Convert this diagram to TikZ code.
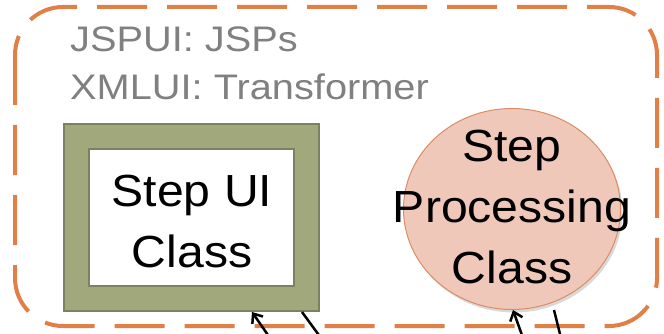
\documentclass[tikz,border=0pt]{standalone}
\usepackage{fontspec}
\setmainfont{Liberation Sans}
\newfontfamily\labelfont[FakeStretch=1.12]{Liberation Sans}
\newfontfamily\classfont[FakeStretch=1.07]{Liberation Sans}
\usetikzlibrary{arrows.meta,shapes.geometric,shadows}
\definecolor{frameorange}{HTML}{E08046}
\definecolor{labelgray}{HTML}{808080}
\definecolor{olivefill}{HTML}{A0A87C}
\definecolor{olivedraw}{HTML}{7C8260}
\definecolor{procfill}{HTML}{F0C8BA}
\definecolor{procdraw}{HTML}{DC8C64}
\begin{document}
\begin{tikzpicture}[x=1pt,y=-1pt,
  uiframe/.style={draw=frameorange,line width=4pt,dash pattern=on 50pt off 20pt,rounded corners=48pt},
  uilabel/.style={text=labelgray,font=\labelfont\fontsize{35.5}{48}\selectfont,anchor=base west,inner sep=0pt},
  classtext/.style={font=\classfont\fontsize{45}{61}\selectfont,align=center,inner sep=0pt},
  link/.style={black,line width=2.5pt}]
  \useasboundingbox (0,0) rectangle (664,334);
  % step ui class: olive frame, white inside
  \node[draw=olivedraw,fill=olivefill,line width=2pt,minimum width=255pt,minimum height=187pt] (uibox) at (191.5,217.5) {};
  \node[draw=olivedraw,fill=white,line width=2pt,minimum width=205pt,minimum height=137pt] (uiinner) at (191.5,217.5) {};
  \node[classtext] (uitext) at (192,222) {Step UI\\Class};
  % step processing class
  \node[ellipse,draw=procdraw,fill=procfill,line width=1pt,minimum width=217pt,minimum height=201pt,
        drop shadow={opacity=0.3,shadow xshift=2pt,shadow yshift=-3pt}] (proc) at (512,209) {};
  \node[classtext] (proctext) at (512,207) {Step\\Processing\\Class};
  % connectors coming in from below
  \coordinate (uiin) at (270,338);
  \coordinate (uiout) at (321,338);
  \coordinate (procin) at (523,338);
  \coordinate (procout) at (561,338);
  \draw[link] (uiout) -- (uibox.south east -| 302,0);
  % dashed frame round the ui layer
  \draw[uiframe] (15,7) rectangle (657,326);
  \node[uilabel] (jspui) at (70,52) {JSPUI: JSPs};
  \node[uilabel] (xmlui) at (70,100) {XMLUI: Transformer};
  \draw[link,-{Straight Barb[length=8pt,width=13pt]}] (uiin) -- (uibox.south -| 252,0);
  \draw[link,-{Straight Barb[length=8pt,width=13pt]}] (procin) -- (proc.south -| 513,0);
  \draw[link] (procout) -- (554,310);
\end{tikzpicture}
\end{document}
